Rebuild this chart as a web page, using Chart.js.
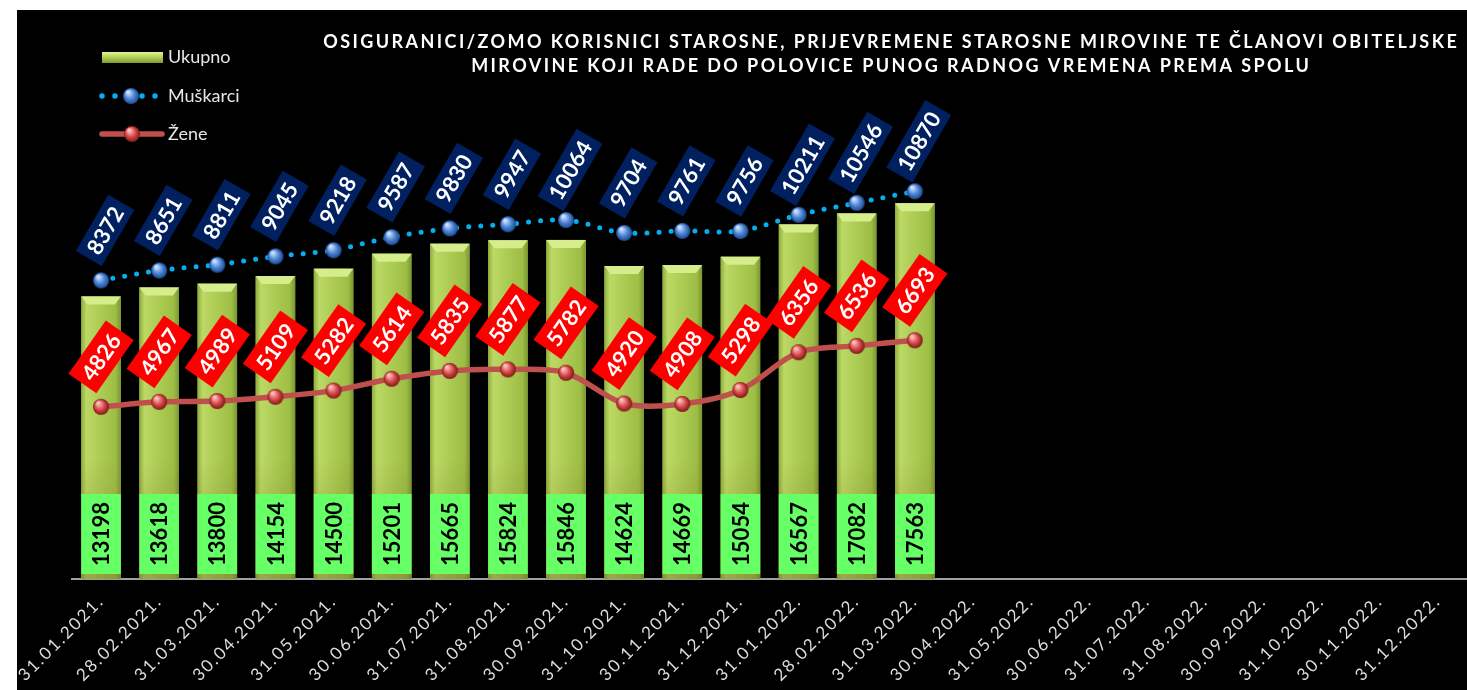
<!DOCTYPE html>
<html>
<head>
<meta charset="utf-8">
<script src="https://cdn.jsdelivr.net/npm/chart.js@4.4.0/dist/chart.umd.min.js"></script>
<style>
html, body { margin: 0; padding: 0; background: #fff; }
canvas { display: block; }
</style>
</head>
<body>
<canvas id="myChart" width="1467" height="690"></canvas>
<script>
var datumi = ['31.01.2021.', '28.02.2021.', '31.03.2021.', '30.04.2021.', '31.05.2021.', '30.06.2021.',
    '31.07.2021.', '31.08.2021.', '30.09.2021.', '31.10.2021.', '30.11.2021.', '31.12.2021.',
    '31.01.2022.', '28.02.2022.', '31.03.2022.', '30.04.2022.', '31.05.2022.', '30.06.2022.',
    '31.07.2022.', '31.08.2022.', '30.09.2022.', '31.10.2022.', '30.11.2022.', '31.12.2022.'];
var ukupno = [13198, 13618, 13800, 14154, 14500, 15201, 15665, 15824, 15846, 14624, 14669, 15054, 16567, 17082, 17563];
var muskarci = [8372, 8651, 8811, 9045, 9218, 9587, 9830, 9947, 10064, 9704, 9761, 9756, 10211, 10546, 10870];
var zene = [4826, 4967, 4989, 5109, 5282, 5614, 5835, 5877, 5782, 4920, 4908, 5298, 6356, 6536, 6693];
var nazivi = ['Ukupno', 'Muškarci', 'Žene'];
var naslov = ['OSIGURANICI/ZOMO KORISNICI STAROSNE, PRIJEVREMENE STAROSNE MIROVINE TE ČLANOVI OBITELJSKE',
    'MIROVINE KOJI RADE DO POLOVICE PUNOG RADNOG VREMENA PREMA SPOLU'];

window.onload = function() {

    function napraviKuglu(svijetla, srednja, tamna) {
        var r = 8;
        var c = document.createElement('canvas');
        c.width = 2 * r + 2;
        c.height = 2 * r + 2;
        var g = c.getContext('2d');
        var grad = g.createRadialGradient(r - 2, r - 3, 1, r + 1, r + 1, r);
        grad.addColorStop(0, svijetla);
        grad.addColorStop(0.55, srednja);
        grad.addColorStop(1, tamna);
        g.fillStyle = grad;
        g.beginPath();
        g.arc(r + 1, r + 1, r, 0, Math.PI * 2);
        g.fill();
        return c;
    }

    var plavaKugla = napraviKuglu('#cfe3ff', '#4f86d6', '#1d4a8f');
    var crvenaKugla = napraviKuglu('#ffc0c0', '#d64a4a', '#7d1717');

    function oznaka(ctx, tekst, x, y, kut, boja, visina) {
        ctx.save();
        ctx.translate(x, y);
        ctx.rotate(kut * Math.PI / 180);
        ctx.font = 'bold 22px Lato';
        var w = ctx.measureText(tekst).width + 14;
        ctx.fillStyle = boja;
        ctx.fillRect(-w / 2, -visina / 2, w, visina);
        ctx.fillStyle = '#ffffff';
        ctx.textAlign = 'center';
        ctx.textBaseline = 'middle';
        ctx.fillText(tekst, 0, 1);
        ctx.restore();
    }

    function nacrtajStupac(ctx, l, r, t, b) {
        var w = r - l;
        var g = ctx.createLinearGradient(l, 0, r, 0);
        g.addColorStop(0, '#8fae3c');
        g.addColorStop(0.13, '#bcd966');
        g.addColorStop(0.5, '#abcb52');
        g.addColorStop(0.87, '#9dbd45');
        g.addColorStop(1, '#7b9631');
        ctx.fillStyle = g;
        ctx.fillRect(l, t, w, b - t);
        //kosina gore
        ctx.fillStyle = '#d6ed8c';
        ctx.beginPath();
        ctx.moveTo(l, t);
        ctx.lineTo(r, t);
        ctx.lineTo(r - 6, t + 8);
        ctx.lineTo(l + 6, t + 8);
        ctx.closePath();
        ctx.fill();
        //tamnije prema dnu
        var v = ctx.createLinearGradient(0, b - 120, 0, b);
        v.addColorStop(0, 'rgba(120,110,30,0)');
        v.addColorStop(1, 'rgba(120,110,30,0.45)');
        ctx.fillStyle = v;
        ctx.fillRect(l, b - 120, w, 120);
    }

    var dodaci = {
        id: 'dodaci',
        beforeDraw: function(chart) {
            var ctx = chart.ctx;
            ctx.save();
            ctx.fillStyle = '#ffffff';
            ctx.fillRect(0, 0, chart.width, chart.height);
            ctx.fillStyle = '#000000';
            ctx.fillRect(17, 10, chart.width - 17, chart.height - 10);
            ctx.restore();
            ctx.letterSpacing = '2px';
        },
        beforeDatasetsDraw: function(chart) {
            chart.ctx.letterSpacing = '0px';
        },
        afterDatasetDraw: function(chart, args) {
            if (args.index !== 0) return;
            var ctx = chart.ctx;
            ctx.save();
            args.meta.data.forEach(function(bar, i) {
                if (ukupno[i] == null) return;
                var p = bar.getProps(['x', 'y', 'base', 'width'], true);
                var l = p.x - p.width / 2, r = p.x + p.width / 2;
                nacrtajStupac(ctx, l, r, p.y, p.base);
                ctx.fillStyle = '#66ff66';
                ctx.fillRect(l, p.base - 85, r - l, 80);
                ctx.save();
                ctx.translate(p.x, p.base - 45);
                ctx.rotate(-Math.PI / 2);
                ctx.fillStyle = '#000000';
                ctx.font = 'bold 22px Lato';
                ctx.textAlign = 'center';
                ctx.textBaseline = 'middle';
                ctx.fillText(String(ukupno[i]), 0, 1);
                ctx.restore();
            });
            ctx.restore();
        },
        afterDraw: function(chart) {
            var ctx = chart.ctx;
            ctx.save();
            ctx.letterSpacing = '0px';
            chart.getDatasetMeta(1).data.forEach(function(pt, i) {
                if (muskarci[i] == null) return;
                oznaka(ctx, String(muskarci[i]), pt.x + 4, pt.y - 50, -60, '#002060', 30);
            });
            chart.getDatasetMeta(2).data.forEach(function(pt, i) {
                if (zene[i] == null) return;
                oznaka(ctx, String(zene[i]), pt.x, pt.y - 50, -55, '#ff0000', 34);
            });

            //naslov
            ctx.font = 'bold 18px Lato';
            ctx.fillStyle = '#ffffff';
            ctx.textAlign = 'center';
            ctx.textBaseline = 'middle';
            var w0 = ctx.measureText(naslov[0]).width;
            var razmak = (1136 - w0) / naslov[0].length;
            ctx.letterSpacing = razmak.toFixed(2) + 'px';
            ctx.fillText(naslov[0], 890 + razmak / 2, 42);
            ctx.fillText(naslov[1], 890 + razmak / 2, 66);
            ctx.letterSpacing = '0px';

            //legenda
            var lg = ctx.createLinearGradient(0, 52, 0, 63);
            lg.addColorStop(0, '#e4f59c');
            lg.addColorStop(0.4, '#b9d65c');
            lg.addColorStop(1, '#7f9a30');
            ctx.fillStyle = lg;
            ctx.fillRect(102, 52, 61, 11);

            ctx.fillStyle = '#00b0f0';
            [102, 115, 142, 155].forEach(function(x) {
                ctx.beginPath();
                ctx.arc(x, 96, 2.7, 0, Math.PI * 2);
                ctx.fill();
            });
            ctx.drawImage(plavaKugla, 131 - 9, 96 - 9);

            ctx.strokeStyle = '#c0504d';
            ctx.lineWidth = 5.5;
            ctx.lineCap = 'round';
            ctx.beginPath();
            ctx.moveTo(102, 134);
            ctx.lineTo(162, 134);
            ctx.stroke();
            ctx.drawImage(crvenaKugla, 132 - 9, 134 - 9);

            ctx.font = '18px Lato';
            ctx.fillStyle = '#e6e6e6';
            ctx.textAlign = 'left';
            ctx.fillText(nazivi[0], 168, 57);
            ctx.fillText(nazivi[1], 168, 96);
            ctx.fillText(nazivi[2], 168, 134);
            ctx.restore();
        }
    };

    var ctx = document.getElementById('myChart').getContext('2d');
    var myChart = new Chart(ctx, {
        type: 'bar',
        data: {
            labels: datumi,
            datasets: [{
                label: nazivi[0],
                data: ukupno,
                yAxisID: 'y',
                backgroundColor: '#a7c84e',
                barPercentage: 0.68,
                categoryPercentage: 1,
                order: 3
            }, {
                type: 'line',
                label: nazivi[1],
                data: muskarci,
                yAxisID: 'y1',
                borderColor: '#00b0f0',
                borderWidth: 5,
                borderDash: [0, 12],
                borderCapStyle: 'round',
                tension: 0.3,
                pointStyle: plavaKugla,
                pointRadius: 8,
                order: 1
            }, {
                type: 'line',
                label: nazivi[2],
                data: zene,
                yAxisID: 'y1',
                borderColor: '#c0504d',
                borderWidth: 5.5,
                tension: 0.3,
                pointStyle: crvenaKugla,
                pointRadius: 8,
                order: 2
            }]
        },
        options: {
            responsive: false,
            animation: false,
            devicePixelRatio: 1,
            layout: { autoPadding: false, padding: { left: 72, top: 151, right: 0, bottom: 0 } },
            plugins: {
                legend: { display: false },
                tooltip: { enabled: false },
                title: { display: false }
            },
            scales: {
                x: {
                    grid: { display: false, drawTicks: false },
                    border: { display: true, color: '#a0a0a0', width: 2 },
                    ticks: {
                        color: '#dcdcdc',
                        font: { family: 'Lato', size: 17 },
                        autoSkip: false,
                        maxRotation: 45,
                        minRotation: 45,
                        padding: 12
                    },
                    afterFit: function(scale) {
                        scale.height = 111;
                        scale.paddingLeft = 0;
                        scale.paddingRight = 0;
                    }
                },
                y: { display: false, min: 0, max: 20000 },
                y1: { display: false, min: 0, max: 12000 }
            }
        },
        plugins: [dodaci]
    });
};
</script>
</body>
</html>
